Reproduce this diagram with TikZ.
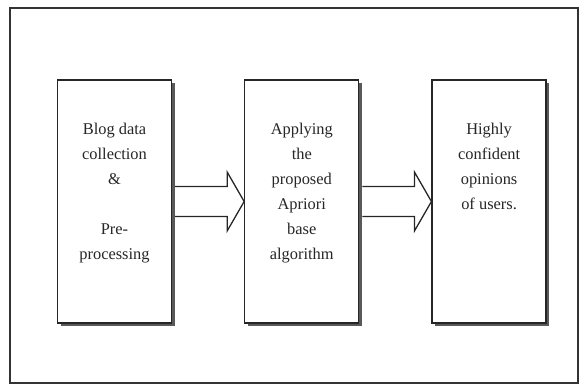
\documentclass[tikz,border=0pt]{standalone}
\usepackage{fontspec}
\setmainfont{Liberation Serif}
\usetikzlibrary{positioning, calc, shadows}

\begin{document}
\begin{tikzpicture}[node distance=2.16cm, semithick,
    stage/.style={draw=black!85, line width=1.1pt, fill=white, minimum width=3.42cm, minimum height=7.29cm,
      drop shadow={shadow xshift=0.09cm, shadow yshift=-0.09cm, fill=black!65, opacity=1}},
    stagetext/.style={anchor=north, inner sep=0pt, align=center, font=\fontsize{14}{21.3}\selectfont, text=black!85},
    blockarrow/.style={draw=black!85, line width=1.1pt, line join=miter}]

      \useasboundingbox (0,0) rectangle (17.61,-11.55);
      \draw[black!80, line width=1pt] (0.3,-0.24) rectangle (17.34,-11.49);

      % Define stages
      \node[stage] (b1) at (3.435,-6.045) {};
      \node[stage, right=of b1] (b2) {};
      \node[stage, right=of b2] (b3) {};

      % Stage texts
      \node[stagetext] (t1) at ($(b1.north)+(0,-1.3)$) {Blog data\\collection\\\&\\[21.3pt]Pre-\\processing};
      \node[stagetext] (t2) at ($(b2.north)+(0,-1.3)$) {Applying\\the\\proposed\\Apriori\\base\\algorithm};
      \node[stagetext] (t3) at ($(b3.north)+(0,-1.3)$) {Highly\\confident\\opinions\\of users.};

      % Define transitions
      \foreach \a/\b in {b1/b2, b2/b3}
        \draw[blockarrow] ($(\a.east)+(0.09,0.45)$) -- ($(\b.west)+(-0.51,0.45)$) -- ($(\b.west)+(-0.51,0.885)$)
          -- (\b.west) -- ($(\b.west)+(-0.51,-0.885)$) -- ($(\b.west)+(-0.51,-0.45)$) -- ($(\a.east)+(0.09,-0.45)$);

    \end{tikzpicture}
\end{document}
